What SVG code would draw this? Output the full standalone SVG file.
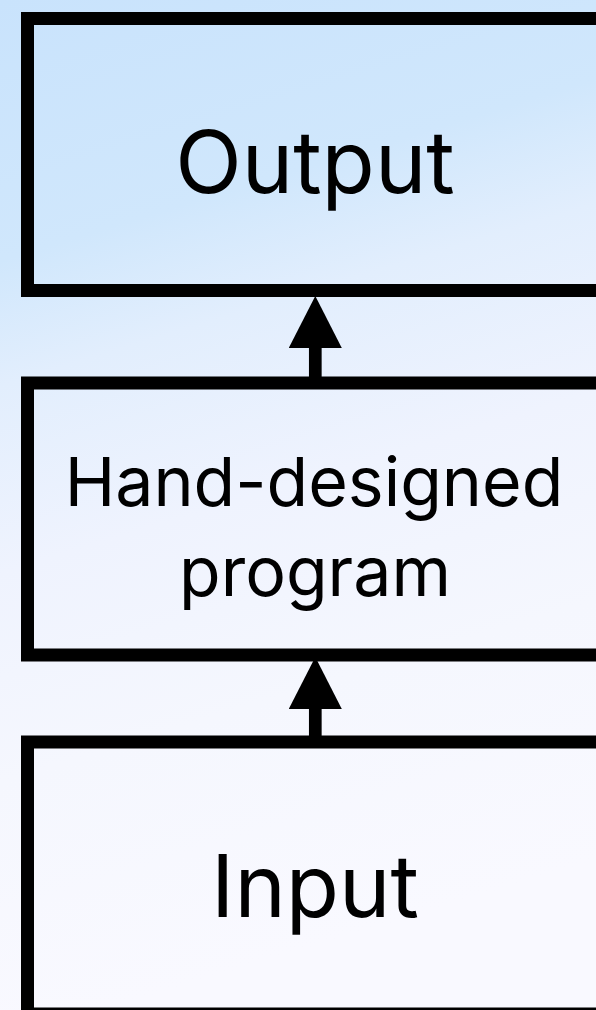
<svg xmlns="http://www.w3.org/2000/svg" width="596" height="1010" viewBox="0 0 596 1010">
  <defs>
    <linearGradient id="bg" x1="0" y1="0" x2="0.18" y2="1">
      <stop offset="0" stop-color="#c9e3fc"/>
      <stop offset="0.25" stop-color="#d0e7fc"/>
      <stop offset="0.37" stop-color="#e2eefd"/>
      <stop offset="0.55" stop-color="#eff3fe"/>
      <stop offset="0.75" stop-color="#f5f7fe"/>
      <stop offset="1" stop-color="#f9f9ff"/>
    </linearGradient>
    <marker id="head" markerUnits="userSpaceOnUse" markerWidth="52" markerHeight="53" refX="0" refY="26.5" orient="auto">
      <path d="M0,0 L52,26.5 L0,53 Z" fill="#000"/>
    </marker>
    <style>
      .box { fill: none; stroke: #000; stroke-width: 13; }
      .label { font-family: Inter, "Liberation Sans", sans-serif; fill: #000; text-anchor: middle; }
      .conn { stroke: #000; stroke-width: 12.7; fill: none; marker-end: url(#head); }
    </style>
  </defs>

  <rect width="596" height="1010" fill="url(#bg)"/>

  <g id="output">
    <rect class="box" x="27.5" y="18.5" width="700" height="272"/>
    <text class="label" x="315" y="193" font-size="87">Output</text>
  </g>

  <g id="program">
    <rect class="box" x="27.5" y="383" width="700" height="272"/>
    <text class="label" x="314" y="506" font-size="68">Hand-designed</text>
    <text class="label" x="315" y="596" font-size="68">program</text>
  </g>

  <g id="input">
    <rect class="box" x="27.5" y="742" width="700" height="272"/>
    <text class="label" x="315" y="917" font-size="87">Input</text>
  </g>

  <g id="connectors">
    <line class="conn" x1="315.3" y1="377" x2="315.3" y2="348"/>
    <line class="conn" x1="315.3" y1="736" x2="315.3" y2="709"/>
  </g>
</svg>
